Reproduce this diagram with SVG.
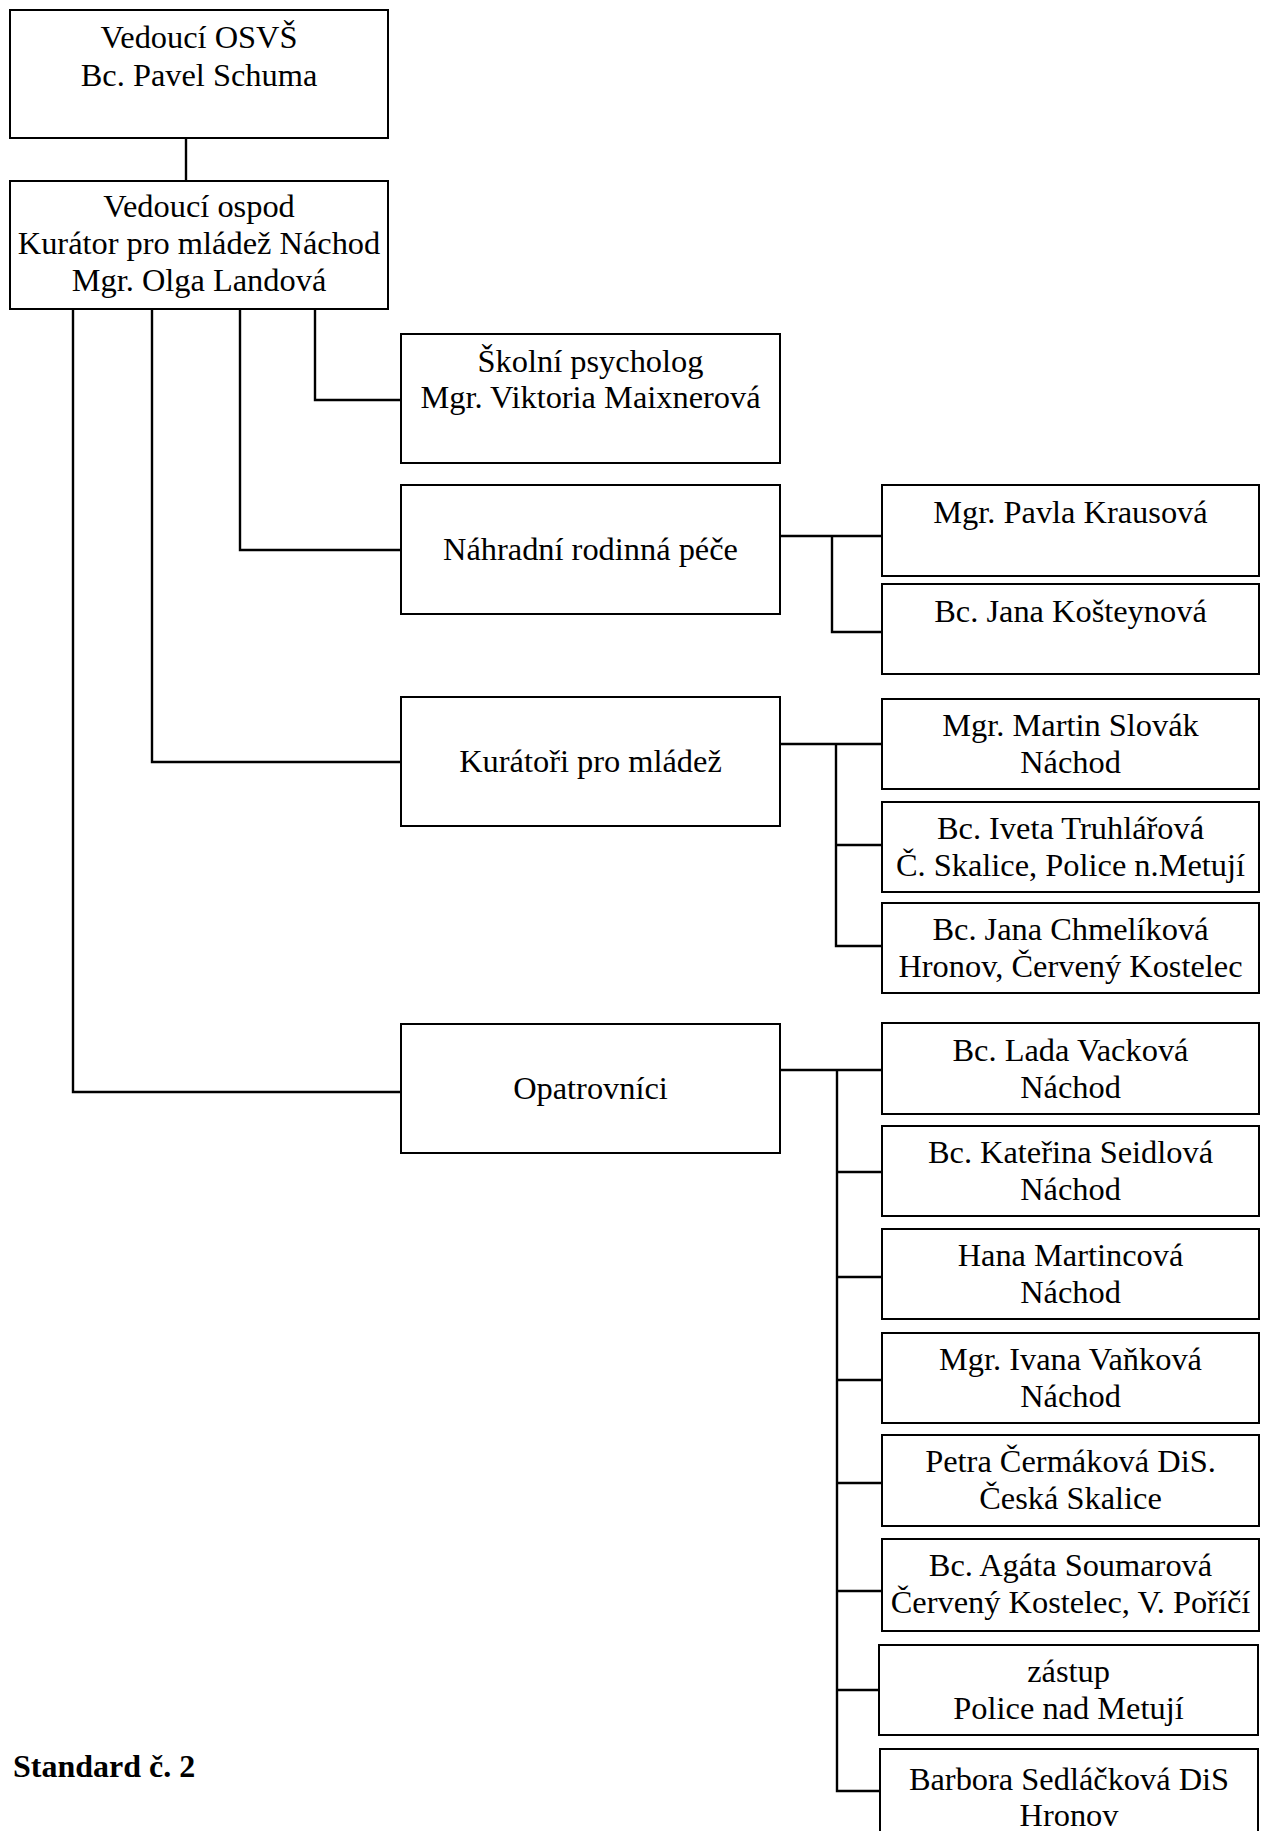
<svg xmlns="http://www.w3.org/2000/svg" width="1265" height="1831" viewBox="0 0 1265 1831">
<style>
.box{fill:#fff;stroke:#000;stroke-width:2}
.t{font-family:"Liberation Serif","Times New Roman",serif;font-size:32.4px;fill:#000;text-anchor:middle}
.c{fill:none;stroke:#000;stroke-width:2.4}
.std{font-family:"Liberation Serif","Times New Roman",serif;font-size:32px;font-weight:bold;fill:#000}
</style>
<rect x="0" y="0" width="1265" height="1831" fill="#fff"/>
<g id="connectors">
<path class="c" d="M186 138V181"/>
<path class="c" d="M315 309V400H401"/>
<path class="c" d="M240 309V550H401"/>
<path class="c" d="M152 309V762H401"/>
<path class="c" d="M73 309V1092H401"/>
<path class="c" d="M780 536H882M832 536V632H882"/>
<path class="c" d="M780 744H882M836 744V946H882M836 845H882"/>
<path class="c" d="M780 1070H882M837 1070V1791H882M837 1172H882M837 1277H882M837 1380H882M837 1483H882M837 1591H882M837 1690H879"/>
</g>
<g id="n-vedouci-osvs"><rect class="box" x="10" y="10" width="378" height="128"/><text class="t" x="199" y="48">Vedoucí OSVŠ</text><text class="t" x="199" y="86">Bc. Pavel Schuma</text></g>
<g id="n-vedouci-ospod"><rect class="box" x="10" y="181" width="378" height="128"/><text class="t" x="199" y="217">Vedoucí ospod</text><text class="t" x="199" y="254">Kurátor pro mládež Náchod</text><text class="t" x="199" y="291">Mgr. Olga Landová</text></g>
<g id="n-skolni"><rect class="box" x="401" y="334" width="379" height="129"/><text class="t" x="590.5" y="372">Školní psycholog</text><text class="t" x="590.5" y="408">Mgr. Viktoria Maixnerová</text></g>
<g id="n-nrp"><rect class="box" x="401" y="485" width="379" height="129"/><text class="t" x="590.5" y="560">Náhradní rodinná péče</text></g>
<g id="n-kuratori"><rect class="box" x="401" y="697" width="379" height="129"/><text class="t" x="590.5" y="772">Kurátoři pro mládež</text></g>
<g id="n-opatrovnici"><rect class="box" x="401" y="1024" width="379" height="129"/><text class="t" x="590.5" y="1099">Opatrovníci</text></g>
<g id="n-krausova"><rect class="box" x="882" y="485" width="377" height="91"/><text class="t" x="1070.5" y="523">Mgr. Pavla Krausová</text></g>
<g id="n-kosteynova"><rect class="box" x="882" y="584" width="377" height="90"/><text class="t" x="1070.5" y="622">Bc. Jana Košteynová</text></g>
<g id="n-slovak"><rect class="box" x="882" y="699" width="377" height="90"/><text class="t" x="1070.5" y="736">Mgr. Martin Slovák</text><text class="t" x="1070.5" y="773">Náchod</text></g>
<g id="n-truhlarova"><rect class="box" x="882" y="802" width="377" height="90"/><text class="t" x="1070.5" y="839">Bc. Iveta Truhlářová</text><text class="t" x="1070.5" y="876">Č. Skalice, Police n.Metují</text></g>
<g id="n-chmelikova"><rect class="box" x="882" y="903" width="377" height="90"/><text class="t" x="1070.5" y="940">Bc. Jana Chmelíková</text><text class="t" x="1070.5" y="977">Hronov, Červený Kostelec</text></g>
<g id="n-vackova"><rect class="box" x="882" y="1023" width="377" height="91"/><text class="t" x="1070.5" y="1061">Bc. Lada Vacková</text><text class="t" x="1070.5" y="1098">Náchod</text></g>
<g id="n-seidlova"><rect class="box" x="882" y="1126" width="377" height="90"/><text class="t" x="1070.5" y="1163">Bc. Kateřina Seidlová</text><text class="t" x="1070.5" y="1200">Náchod</text></g>
<g id="n-martincova"><rect class="box" x="882" y="1229" width="377" height="90"/><text class="t" x="1070.5" y="1266">Hana Martincová</text><text class="t" x="1070.5" y="1303">Náchod</text></g>
<g id="n-vankova"><rect class="box" x="882" y="1333" width="377" height="90"/><text class="t" x="1070.5" y="1370">Mgr. Ivana Vaňková</text><text class="t" x="1070.5" y="1407">Náchod</text></g>
<g id="n-cermakova"><rect class="box" x="882" y="1435" width="377" height="91"/><text class="t" x="1070.5" y="1472">Petra Čermáková DiS.</text><text class="t" x="1070.5" y="1509">Česká Skalice</text></g>
<g id="n-soumarova"><rect class="box" x="882" y="1539" width="377" height="92"/><text class="t" x="1070.5" y="1576">Bc. Agáta Soumarová</text><text class="t" x="1070.5" y="1613">Červený Kostelec, V. Poříčí</text></g>
<g id="n-zastup"><rect class="box" x="879" y="1645" width="379" height="90"/><text class="t" x="1068.5" y="1682">zástup</text><text class="t" x="1068.5" y="1719">Police nad Metují</text></g>
<g id="n-sedlackova"><rect class="box" x="880" y="1749" width="378" height="95"/><text class="t" x="1069" y="1790">Barbora Sedláčková DiS</text><text class="t" x="1069" y="1826">Hronov</text></g>
<text class="std" x="13" y="1777">Standard č. 2</text>
</svg>
